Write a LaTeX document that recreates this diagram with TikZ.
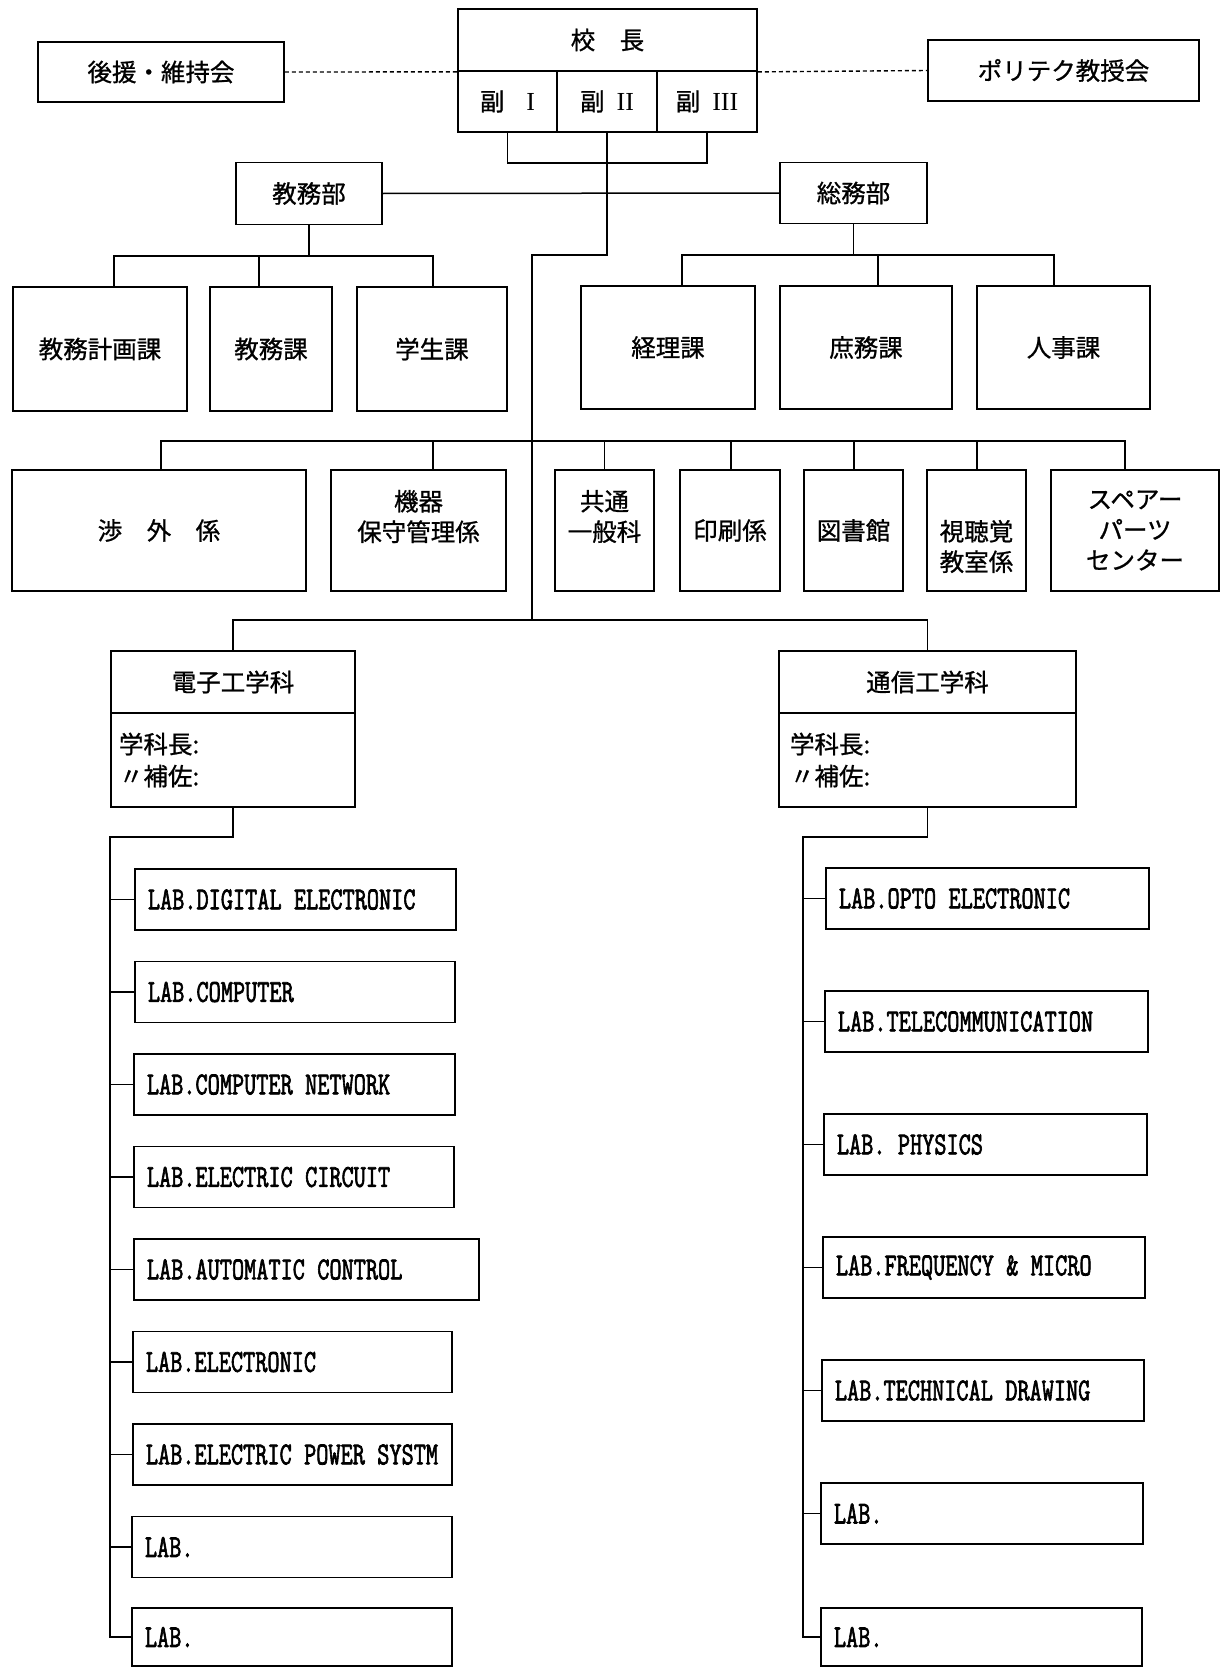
\documentclass[tikz,border=0pt]{standalone}
\usepackage{fontspec}
\usepackage{graphicx}
\setmainfont{Liberation Serif}
\newfontfamily\jp[FakeBold=0.9]{Noto Sans CJK JP}
\newfontfamily\labfont[FakeBold=2.5]{Latin Modern Mono}
\newcommand\jpf{\jp\fontsize{24.5pt}{30.5pt}\selectfont}
\newcommand\jpl{\jp\fontsize{24.5pt}{32pt}\selectfont}
\newcommand\ws{\hspace{12.4pt}}
\newcommand\labtext[1]{\scalebox{1}[1.35]{\labfont\fontsize{23.6pt}{26pt}\selectfont #1}}
\newcommand\rn[1]{{\rmfamily\fontsize{26pt}{30pt}\selectfont #1}}
\begin{document}
\begin{tikzpicture}[x=1pt,y=-1pt,
  box/.style={draw, line width=1.8pt, inner sep=0pt, align=center, font=\jpf},
  labbox/.style={draw, line width=1.8pt, inner xsep=13pt, inner ysep=0pt, minimum height=61pt, align=left, anchor=west},
  txt/.style={inner sep=0pt, align=center, font=\jpf},
  conn/.style={line width=1.5pt},
  dots/.style={line width=1.4pt, dash pattern=on 4pt off 3pt}]
\useasboundingbox (0,0) rectangle (1221,1667);
\fill[white] (0,0) rectangle (1221,1667);

% top row
\node[box, minimum width=246pt, minimum height=60pt] (supp) at (161,72) {後援・維持会};
\node[box, minimum width=299pt, minimum height=62pt] (head) at (607.5,40) {校　長};
\node[box, minimum width=99pt, minimum height=61pt] (v1) at (507.5,101.5) {副\hspace{22pt}\rn{I}};
\node[box, minimum width=100pt, minimum height=61pt] (v2) at (607,101.5) {副\hspace{12pt}\rn{II}};
\node[box, minimum width=100pt, minimum height=61pt] (v3) at (707,101.5) {副\hspace{12pt}\rn{III}};
\node[box, minimum width=271pt, minimum height=61pt] (poly) at (1063.5,70.5) {ポリテク教授会};

\draw[dots] (supp.east) -- (head.south west);
\draw[dots] (head.south east) -- (poly.west);

% departments
\node[box, minimum width=146pt, minimum height=62pt] (kyomu) at (309,193.5) {教務部};
\node[box, minimum width=147pt, minimum height=61pt] (somu) at (853.5,193) {総務部};

\node[box, minimum width=174pt, minimum height=124pt] (k1) at (100,349) {教務計画課};
\node[box, minimum width=122pt, minimum height=124pt] (k2) at (271,349) {教務課};
\node[box, minimum width=150pt, minimum height=124pt] (k3) at (432,349) {学生課};
\node[box, minimum width=174pt, minimum height=123pt] (s1) at (668,347.5) {経理課};
\node[box, minimum width=172pt, minimum height=123pt] (s2) at (866,347.5) {庶務課};
\node[box, minimum width=173pt, minimum height=123pt] (s3) at (1063.5,347.5) {人事課};

% third row
\node[box, minimum width=294pt, minimum height=121pt] (r1) at (159,530.5) {渉　外　係};
\node[box, minimum width=175pt, minimum height=121pt] (r2) at (418.5,530.5) {};
\node[txt] (r2t) at (418.5,516.5) {機器\\保守管理係};
\node[box, minimum width=99pt, minimum height=121pt] (r3) at (604.5,530.5) {};
\node[txt] (r3t) at (604.5,516.5) {共通\\一般科};
\node[box, minimum width=100pt, minimum height=121pt] (r4) at (730,530.5) {印刷係};
\node[box, minimum width=99pt, minimum height=121pt] (r5) at (853.5,530.5) {図書館};
\node[box, minimum width=99pt, minimum height=121pt] (r6) at (976.5,530.5) {};
\node[txt] (r6t) at (976.5,546.5) {視聴覚\\教室係};
\node[box, minimum width=168pt, minimum height=121pt] (r7) at (1135,530.5) {スペアー\\パーツ\\センター};

% faculties
\node[box, minimum width=244pt, minimum height=62pt] (den) at (233,682) {電子工学科};
\node[box, minimum width=244pt, minimum height=94pt, text width=228pt, inner xsep=8pt, align=left, font=\jpl] (denb) at (233,760) {学科長:\\〃補佐:};
\node[box, minimum width=297pt, minimum height=62pt] (tsu) at (927.5,682) {通信工学科};
\node[box, minimum width=297pt, minimum height=94pt, text width=275pt, inner xsep=11pt, align=left, font=\jpl] (tsub) at (927.5,760) {学科長:\\〃補佐:};

% left labs
\node[labbox, text width=295pt] (L1) at (134,899.5) {\labtext{LAB.DIGITAL\ws ELECTRONIC}};
\node[labbox, text width=294pt] (L2) at (134,992) {\labtext{LAB.COMPUTER}};
\node[labbox, text width=295pt] (L3) at (133,1084.5) {\labtext{LAB.COMPUTER\ws NETWORK}};
\node[labbox, text width=294pt] (L4) at (133,1177) {\labtext{LAB.ELECTRIC\ws CIRCUIT}};
\node[labbox, text width=319pt] (L5) at (133,1269.5) {\labtext{LAB.AUTOMATIC\ws CONTROL}};
\node[labbox, text width=293pt] (L6) at (132,1362) {\labtext{LAB.ELECTRONIC}};
\node[labbox, text width=293pt] (L7) at (132,1454.5) {\labtext{LAB.ELECTRIC\ws POWER\ws SYSTM}};
\node[labbox, text width=294pt] (L8) at (131,1547) {\labtext{LAB.}};
\node[labbox, text width=294pt, minimum height=58pt] (L9) at (131,1637) {\labtext{LAB.}};

% right labs
\node[labbox, text width=297pt] (R1) at (825,898.5) {\labtext{LAB.OPTO\ws ELECTRONIC}};
\node[labbox, text width=297pt] (R2) at (824,1021.5) {\labtext{LAB.TELECOMMUNICATION}};
\node[labbox, text width=297pt] (R3) at (823,1144.5) {\labtext{LAB.\ws PHYSICS}};
\node[labbox, text width=296pt] (R4) at (822,1267.5) {\labtext{LAB.FREQUENCY\ws\&\ws MICRO}};
\node[labbox, text width=296pt] (R5) at (821,1390.5) {\labtext{LAB.TECHNICAL\ws DRAWING}};
\node[labbox, text width=296pt] (R6) at (820,1513.5) {\labtext{LAB.}};
\node[labbox, text width=295pt, minimum height=58pt] (R7) at (820,1637) {\labtext{LAB.}};

% coordinates
\coordinate (t1) at (607,255);
\coordinate (t2) at (532,255);
\coordinate (t3) at (532,620);
\coordinate (t4) at (532,441);
\coordinate (vj) at (607,163);
\coordinate (kb) at (309,256);
\coordinate (sb) at (853.5,255);
\coordinate (ljog) at (110,837);
\coordinate (rjog) at (803,837);

% connectors
\draw[conn] (v1.south) |- (vj) -| (v3.south);
\draw[conn] (v2.south) -- (t1) -- (t2) -- (t3);
\draw[conn] (kyomu.east) -- (somu.west);

\draw[conn] (kyomu.south) -- (kb);
\draw[conn] ([xshift=14pt]k1.north) |- (kb) -| ([xshift=1pt]k3.north);
\draw[conn] ([xshift=-12pt]k2.north) -- ++(0,-31);

\draw[conn] (somu.south) -- (sb);
\draw[conn] ([xshift=14pt]s1.north) |- (sb) -| ([xshift=-9.5pt]s3.north);
\draw[conn] ([xshift=12pt]s2.north) -- ++(0,-31);

\draw[conn] ([xshift=2pt]r1.north) |- (t4) -| ([xshift=-10pt]r7.north);
\foreach \n/\s in {r2/14.5, r3/0, r4/1, r5/0.5, r6/0.5}
  \draw[conn] ([xshift=\s pt]\n.north) -- ++(0,-29);

\draw[conn] (den.north) |- (t3) -| (tsu.north);

\draw[conn] (denb.south) |- (ljog) |- (L9.west);
\foreach \i in {1,...,8} \draw[conn] (L\i.west) -- (L\i.west -| ljog);
\draw[conn] (tsub.south) |- (rjog) |- (R7.west);
\foreach \i in {1,...,6} \draw[conn] (R\i.west) -- (R\i.west -| rjog);
\end{tikzpicture}
\end{document}
